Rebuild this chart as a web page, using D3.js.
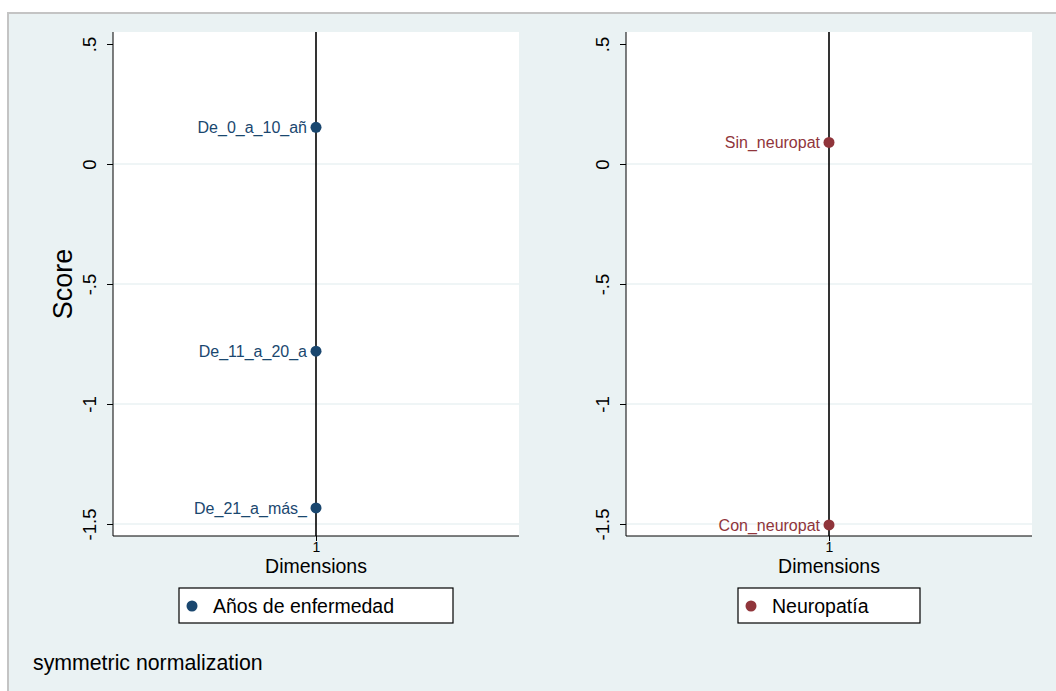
<!DOCTYPE html>
<html>
<head>
<meta charset="utf-8">
<script src="https://cdn.jsdelivr.net/npm/d3@7"></script>
<style>
  body { margin: 0; background: #fff; }
  svg { display: block; font-family: "Liberation Sans", Arial, sans-serif; }
</style>
</head>
<body>
<svg id="chart" width="1056" height="691"></svg>
<script>
'use strict';

// panel 1: Años de enfermedad
var catsYears = ["De_0_a_10_añ", "De_11_a_20_a", "De_21_a_más_"];
var scoresYears = [0.153, -0.780, -1.433];
// panel 2: Neuropatía
var catsNeuro = ["Sin_neuropat", "Con_neuropat"];
var scoresNeuro = [0.090, -1.504];

var yTicks = [0.5, 0, -0.5, -1, -1.5];
var yTickLabels = [".5", "0", "-.5", "-1", "-1.5"];
var xTicks = [1];

var panels = [
	{ cats: catsYears, scores: scoresYears, legend: "Años de enfermedad", color: "#1a476f", left: 113, legW: 274 },
	{ cats: catsNeuro, scores: scoresNeuro, legend: "Neuropatía", color: "#90353b", left: 626, legW: 182 }
];

var svg = d3.select("#chart");

// outer graph region
svg.append("rect")
	.attr("x", 8).attr("y", 13)
	.attr("width", 1056 - 8).attr("height", 691 - 13)
	.attr("fill", "#eaf2f3");
svg.append("path")
	.attr("d", "M8,691V13H1056")
	.attr("fill", "none")
	.attr("stroke", "#c4c4c4")
	.attr("stroke-width", 2);

var plotTop = 32, plotH = 504, plotW = 406;

function drawPanel(p, idx) {
	let g = svg.append("g").attr("transform", "translate(" + p.left + "," + plotTop + ")");

	let x = d3.scaleLinear().domain([0, 2]).range([0, plotW]);
	let y = d3.scaleLinear().domain([-1.55, 0.55]).range([plotH, 0]);

	g.append("rect")
		.attr("width", plotW).attr("height", plotH)
		.attr("fill", "#fff");

	// gridlines
	g.selectAll(".grid")
		.data(yTicks.filter(function (v) { return v < 0.5; }))
		.enter().append("line")
		.attr("x1", 0).attr("x2", plotW)
		.attr("y1", function (d) { return y(d); })
		.attr("y2", function (d) { return y(d); })
		.attr("stroke", "#eaf2f3")
		.attr("stroke-width", 1.5);

	// reference line at dimension 1
	g.append("line")
		.attr("x1", x(1)).attr("x2", x(1))
		.attr("y1", 0).attr("y2", plotH)
		.attr("stroke", "#000")
		.attr("stroke-width", 1.6);

	// y axis
	let yAxis = g.append("g")
		.call(d3.axisLeft(y).tickValues(yTicks).tickSize(6).tickPadding(0)
			.tickFormat(function (d, i) { return yTickLabels[i]; }));
	yAxis.select(".domain").attr("d", "M0,0V" + plotH).attr("stroke", "#000");
	yAxis.selectAll(".tick line").attr("stroke", "#000");
	yAxis.selectAll(".tick text")
		.attr("transform", "rotate(-90)")
		.attr("x", 0).attr("y", -17)
		.attr("dy", 0)
		.attr("text-anchor", "middle")
		.style("font-size", "18.5px")
		.attr("fill", "#000");

	// x axis
	let xAxis = g.append("g")
		.attr("transform", "translate(0," + plotH + ")")
		.call(d3.axisBottom(x).tickValues(xTicks).tickSize(5).tickPadding(1).tickFormat(d3.format("d")));
	xAxis.select(".domain").attr("d", "M0,0H" + plotW).attr("stroke", "#000");
	xAxis.selectAll(".tick line").attr("stroke", "#000");
	xAxis.selectAll(".tick text").style("font-size", "14px").attr("fill", "#000");

	g.append("text")
		.attr("x", x(1)).attr("y", plotH + 37)
		.attr("text-anchor", "middle")
		.style("font-size", "19.5px")
		.text("Dimensions");

	if (idx === 0) {
		g.append("text")
			.attr("transform", "translate(-41," + y(-0.5) + ") rotate(-90)")
			.attr("text-anchor", "middle")
			.style("font-size", "27px")
			.text("Score");
	}

	// points + labels
	let pts = p.cats.map(function (c, i) { return { name: c, value: p.scores[i] }; });
	g.selectAll(".pt")
		.data(pts)
		.enter().append("circle")
		.attr("cx", x(1))
		.attr("cy", function (d) { return y(d.value); })
		.attr("r", 5.5)
		.attr("fill", p.color);
	g.selectAll(".lbl")
		.data(pts)
		.enter().append("text")
		.attr("x", x(1) - 9)
		.attr("y", function (d) { return y(d.value); })
		.attr("dy", "0.35em")
		.attr("text-anchor", "end")
		.style("font-size", "16px")
		.attr("fill", p.color)
		.text(function (d) { return d.name; });

	// legend, centred under the plot
	let lx = p.left + plotW / 2 - p.legW / 2;
	let lg = svg.append("g").attr("transform", "translate(" + lx + ",588)");
	lg.append("rect")
		.attr("width", p.legW).attr("height", 35)
		.attr("fill", "#fff")
		.attr("stroke", "#000")
		.attr("stroke-width", 1.2);
	lg.append("circle")
		.attr("cx", 13).attr("cy", 18).attr("r", 5.5)
		.attr("fill", p.color);
	lg.append("text")
		.attr("x", 34).attr("y", 18).attr("dy", "0.35em")
		.style("font-size", "19.5px")
		.text(p.legend);
}

panels.forEach(drawPanel);

svg.append("text")
	.attr("x", 33).attr("y", 670)
	.style("font-size", "21.3px")
	.text("symmetric normalization");
</script>
</body>
</html>
